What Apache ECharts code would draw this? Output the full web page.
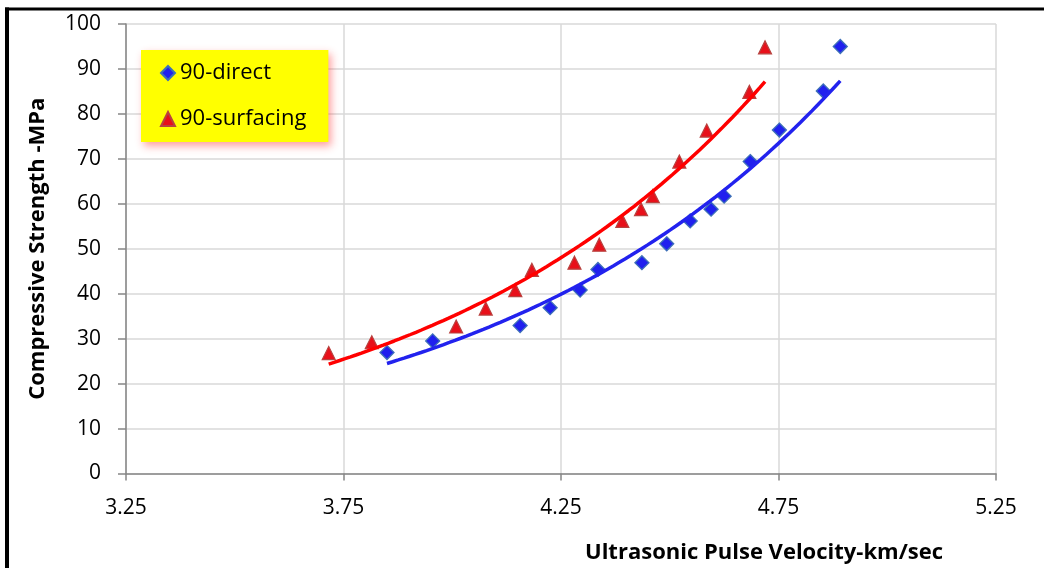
<!DOCTYPE html>
<html><head><meta charset="utf-8">
<script src="https://cdn.jsdelivr.net/npm/echarts@6/dist/echarts.min.js"></script>
<style>html,body{margin:0;padding:0;background:#fff}#c{width:1044px;height:568px}</style>
</head><body><div id="c"></div>
<script>
// ---- data ----
const seriesNames = ['90-direct', '90-surfacing'];
const velocityDirect = [3.850, 3.955, 4.156, 4.225, 4.294, 4.335, 4.436, 4.493, 4.547, 4.595, 4.625, 4.685, 4.752, 4.853, 4.892];
const strengthDirect = [26.9, 29.5, 32.9, 36.9, 40.8, 45.4, 46.9, 51.1, 56.2, 58.8, 61.7, 69.4, 76.4, 85.1, 95.0];
const velocitySurfacing = [3.716, 3.815, 4.009, 4.077, 4.145, 4.183, 4.281, 4.338, 4.391, 4.434, 4.461, 4.522, 4.585, 4.683, 4.719];
const strengthSurfacing = [26.8, 29.2, 32.7, 36.7, 40.8, 45.3, 46.9, 50.9, 56.2, 58.8, 61.7, 69.4, 76.3, 84.9, 94.8];
const xTickValues = [3.25, 3.75, 4.25, 4.75, 5.25];
const yTickValues = [0, 10, 20, 30, 40, 50, 60, 70, 80, 90, 100];
const xTitle = 'Ultrasonic Pulse Velocity-km/sec';
const yTitle = 'Compressive Strength -MPa';

// exponential trendline (least squares on ln y), like a spreadsheet trendline
function expTrend(xs, ys, steps) {
  const n = xs.length;
  const ly = ys.map(v => Math.log(v));
  const mx = xs.reduce((a, b) => a + b, 0) / n;
  const my = ly.reduce((a, b) => a + b, 0) / n;
  let sxy = 0, sxx = 0;
  for (let i = 0; i < n; i++) { sxy += (xs[i] - mx) * (ly[i] - my); sxx += (xs[i] - mx) ** 2; }
  const b = sxy / sxx, a = my - b * mx;
  const x0 = Math.min(...xs), x1 = Math.max(...xs);
  const out = [];
  for (let i = 0; i <= steps; i++) { const x = x0 + (x1 - x0) * i / steps; out.push([x, Math.exp(a + b * x)]); }
  return out;
}

const zip = (xs, ys) => xs.map((x, i) => [x, ys[i]]);
const FONT = '"Open Sans", "Liberation Sans", sans-serif';

const chart = echarts.init(document.getElementById('c'), null, { renderer: 'canvas' });
chart.setOption({
  animation: false,
  backgroundColor: '#fff',
  grid: { left: 126, right: 48, top: 24, bottom: 94.5, containLabel: false, outerBoundsMode: 'none' },
  legend: {
    data: seriesNames.map((n, i) => ({ name: n, icon: i === 0 ? 'diamond' : 'triangle' })),
    orient: 'vertical', left: 141, top: 50,
    padding: [12, 22, 12, 19],
    itemWidth: 14, itemHeight: 14, itemGap: 24,
    backgroundColor: '#ffff00',
    shadowColor: 'rgba(255,40,40,0.45)', shadowBlur: 8, shadowOffsetX: 3, shadowOffsetY: 4,
    textStyle: { fontFamily: FONT, fontSize: 22, color: '#000', lineHeight: 22 }
  },
  xAxis: {
    type: 'value', min: 3.25, max: 5.25, interval: 0.25,
    axisLine: { onZero: false, lineStyle: { color: '#868686', width: 1.5 } },
    axisTick: { show: true, length: 7, inside: false, customValues: xTickValues, lineStyle: { color: '#868686', width: 1.5 } },
    axisLabel: { customValues: xTickValues, margin: 24, fontFamily: FONT, fontSize: 21, color: '#000',
      formatter: v => v.toFixed(2) },
    splitLine: { show: true, lineStyle: { color: '#d9d9d9', width: 1.5 } }
  },
  yAxis: {
    type: 'value', min: 0, max: 100, interval: 10,
    name: yTitle, nameLocation: 'middle', nameGap: 77,
    nameTextStyle: { fontFamily: FONT, fontSize: 22, fontWeight: 'bold', color: '#000' },
    axisLine: { show: true, lineStyle: { color: '#868686', width: 1.5 } },
    axisTick: { show: true, length: 8, lineStyle: { color: '#868686', width: 1.5 } },
    axisLabel: { margin: 25, fontFamily: FONT, fontSize: 21, color: '#000',
      formatter: v => (yTickValues.indexOf(v) >= 0 ? String(v) : '') },
    splitLine: { show: true, lineStyle: { color: '#d9d9d9', width: 1.5 } }
  },
  series: [
    { name: seriesNames[0], type: 'scatter', data: zip(velocityDirect, strengthDirect), symbol: 'diamond', symbolSize: 14,
      itemStyle: { color: '#2020ee', borderColor: '#3d70b8', borderWidth: 1.3, opacity: 1 }, z: 2 },
    { name: seriesNames[1], type: 'scatter', data: zip(velocitySurfacing, strengthSurfacing), symbol: 'triangle', symbolSize: 13,
      itemStyle: { color: '#e8101a', borderColor: '#b8423f', borderWidth: 1.2, opacity: 1 }, z: 2 },
    { name: 'trend-direct', type: 'line', data: expTrend(velocityDirect, strengthDirect, 80), showSymbol: false, symbol: 'none',
      lineStyle: { color: '#2222ee', width: 3.5 }, z: 3, silent: true },
    { name: 'trend-surfacing', type: 'line', data: expTrend(velocitySurfacing, strengthSurfacing, 80), showSymbol: false, symbol: 'none',
      lineStyle: { color: '#ff0000', width: 3.5 }, z: 3, silent: true }
  ],
  graphic: [
    { type: 'rect', shape: { x: 5, y: 7.5, width: 4, height: 561 }, style: { fill: '#000' } },
    { type: 'rect', shape: { x: 5, y: 7.5, width: 1039, height: 3 }, style: { fill: '#000' } },
    { type: 'text', style: { text: xTitle, x: 764, y: 553, align: 'center', verticalAlign: 'middle',
      font: 'bold 22px "Open Sans", "Liberation Sans", sans-serif', fill: '#000' } }
  ]
});
</script></body></html>
